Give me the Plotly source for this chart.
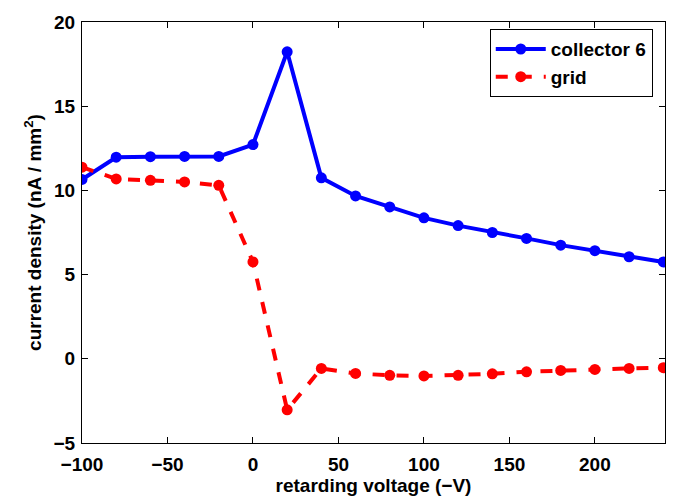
import plotly.graph_objects as go

voltage = [-100, -80, -60, -40, -20, 0, 20, 40, 60, 80, 100, 120, 140, 160, 180, 200, 220, 240]
collector6 = [10.65, 11.97, 12.0, 12.02, 12.02, 12.72, 18.23, 10.75, 9.67, 9.02, 8.37, 7.91, 7.5, 7.15, 6.75, 6.42, 6.06, 5.75]
grid = [11.38, 10.68, 10.6, 10.5, 10.3, 5.75, -3.03, -0.57, -0.87, -0.98, -1.02, -0.98, -0.89, -0.77, -0.69, -0.63, -0.57, -0.53]

font = dict(family="Liberation Sans, Arial, sans-serif", size=19, color="black", weight="bold")

fig = go.Figure()
fig.add_trace(go.Scatter(x=voltage, y=collector6, name="collector 6", mode="lines+markers",
                         line=dict(color="#0000ff", width=4),
                         marker=dict(color="#0000ff", size=11)))
fig.add_trace(go.Scatter(x=voltage, y=grid, name="grid", mode="lines+markers",
                         line=dict(color="#ff0000", width=4, dash="dash"),
                         marker=dict(color="#ff0000", size=11)))

axis_common = dict(showgrid=False, zeroline=False, showline=True, linecolor="black", linewidth=1,
                   mirror="ticks", ticks="inside", ticklen=6, tickcolor="black",
                   tickfont=font)
fig.update_layout(
    width=678, height=504,
    margin=dict(l=82, r=13, t=21, b=60),
    paper_bgcolor="white", plot_bgcolor="white",
    font=font,
    xaxis=dict(range=[-100, 241], tickvals=[-100, -50, 0, 50, 100, 150, 200],
               ticklabelstandoff=4,
               title=dict(text="retarding voltage (\u2212V)", font=font, standoff=4), **axis_common),
    yaxis=dict(range=[-5, 20], tickvals=[-5, 0, 5, 10, 15, 20],
               ticklabelstandoff=2,
               title=dict(text="current density (nA / mm<sup>2</sup>)", font=font, standoff=6), **axis_common),
    legend=dict(x=0.979, y=0.983, xanchor="right", yanchor="top", bgcolor="white",
                bordercolor="black", borderwidth=1,
                font=dict(family=font["family"], size=19, color="black", weight="bold"),
                itemwidth=50, tracegroupgap=0),
    showlegend=True,
)
fig.write_html("out.html")
